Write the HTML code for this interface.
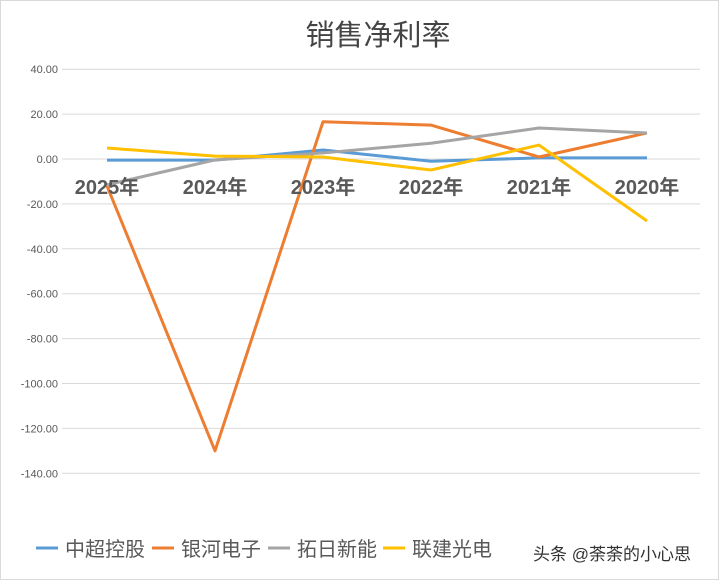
<!DOCTYPE html>
<html><head><meta charset="utf-8"><style>
body{margin:0;background:#fff;}
svg{display:block;font-family:"Liberation Sans","Noto Sans CJK SC",sans-serif;}
</style></head><body>
<svg id="chart" width="719" height="580" viewBox="0 0 719 580">
<rect x="0.5" y="0.5" width="718" height="579" fill="#fff" stroke="#d9d9d9"/>
<text x="378" y="45" text-anchor="middle" font-size="29" fill="#444">销售净利率</text>
<g id="grid"></g><g id="yt"></g><g id="series"></g><g id="xt"></g><g id="legend"></g>
<text x="533" y="560" font-size="17" fill="#333">头条 @荼荼的小心思</text>
</svg>
<script>
const categories=["2025年","2024年","2023年","2022年","2021年","2020年"];
const seriesNames=["中超控股","银河电子","拓日新能","联建光电"];
const colors=["#5b9bd5","#ed7d31","#a5a5a5","#ffc000"];
const zhongchao=[-0.5,-0.5,4,-1,0.5,0.5];
const yinhe=[-12,-130,16.6,15.1,0.9,11.6];
const tuori=[-11.5,-0.4,2.7,7,13.8,11.6];
const lianjian=[4.9,1.3,0.9,-4.9,6.2,-27.6];
const yTicks=[40,20,0,-20,-40,-60,-80,-100,-120,-140];
const allSeries=[zhongchao,yinhe,tuori,lianjian];
const NS="http://www.w3.org/2000/svg";
function y(v){return 159-v*2.245;}
function x(i){return 107+i*108;}
function mk(t,a,p){const e=document.createElementNS(NS,t);for(const k in a)e.setAttribute(k,a[k]);p.appendChild(e);return e;}
const grid=document.getElementById('grid'),yt=document.getElementById('yt');
yTicks.forEach(v=>{
 const l=mk('line',{x1:62,x2:700,y1:y(v),y2:y(v),stroke:'#d9d9d9','stroke-width':1},grid);
 
 
 const t=mk('text',{x:58,y:y(v)+4,'text-anchor':'end','font-size':11,fill:'#595959'},yt);
 t.textContent=v.toFixed(2);
 
 
});
const sg=document.getElementById('series');
allSeries.forEach((s,k)=>{
 const p=mk('polyline',{points:s.map((v,i)=>x(i)+','+y(v)).join(' '),fill:'none',stroke:colors[k],'stroke-width':3,'stroke-linejoin':'round'},sg);
 
 
});
const xt=document.getElementById('xt');
categories.forEach((c,i)=>{
 const t=mk('text',{x:x(i),y:194,'text-anchor':'middle','font-size':20,'font-weight':'bold',fill:'#595959'},xt);
 t.textContent=c;
 
 
});
const lg=document.getElementById('legend');
const lx=[36,152,268,383];
seriesNames.forEach((n,k)=>{
 const l=mk('line',{x1:lx[k],x2:lx[k]+22,y1:548,y2:548,stroke:colors[k],'stroke-width':3},lg);
 
 
 const t=mk('text',{x:lx[k]+29,y:556,'font-size':20,fill:'#595959'},lg);
 t.textContent=n;
 
 
});
</script>
</body></html>
